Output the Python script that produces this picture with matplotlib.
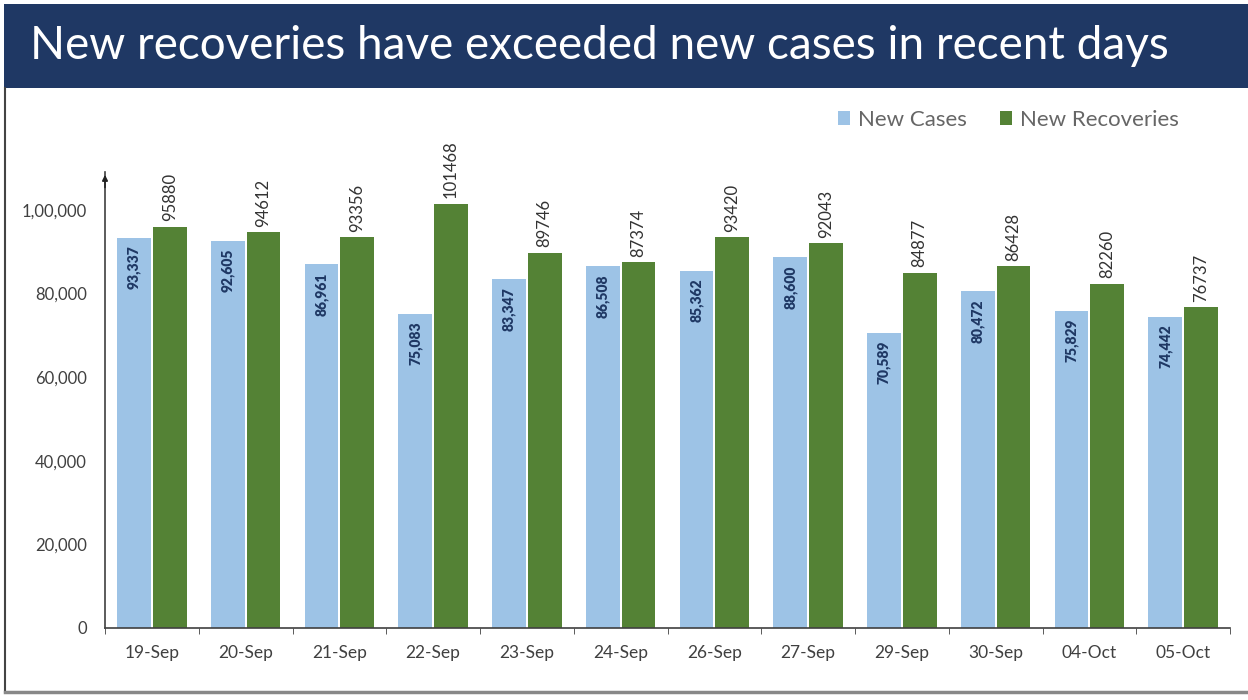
import matplotlib
matplotlib.use("Agg")
import matplotlib.pyplot as plt
from matplotlib.patches import Rectangle
import numpy as np

categories = ["19-Sep", "20-Sep", "21-Sep", "22-Sep", "23-Sep", "24-Sep",
              "26-Sep", "27-Sep", "29-Sep", "30-Sep", "04-Oct", "05-Oct"]
new_cases = [93337, 92605, 86961, 75083, 83347, 86508,
             85362, 88600, 70589, 80472, 75829, 74442]
new_recoveries = [95880, 94612, 93356, 101468, 89746, 87374,
                  93420, 92043, 84877, 86428, 82260, 76737]
y_ticks = [0, 20000, 40000, 60000, 80000, 100000]
y_tick_labels = ["0", "20,000", "40,000", "60,000", "80,000", "1,00,000"]
title = "New recoveries have exceeded new cases in recent days"

W, H = 1248, 700
fig = plt.figure(figsize=(W / 100, H / 100), dpi=100)
fig.patch.set_facecolor("white")
plt.rcParams["font.family"] = ["Lato", "DejaVu Sans"]

# title bar
fig.patches.append(Rectangle((4 / W, 1 - 88 / H), 1 - 4 / W, 84 / H,
                             transform=fig.transFigure, facecolor="#1F3864",
                             edgecolor="none", zorder=0))
fig.text(30 / W, 1 - 46 / H, title, color="white", fontsize=33,
         ha="left", va="center", family=["Lato", "DejaVu Sans"])
# frame lines
fig.add_artist(plt.Line2D([5 / W, 5 / W], [1 - 88 / H, 1 - 692 / H],
                          transform=fig.transFigure, color="#444444", lw=1.5))
fig.add_artist(plt.Line2D([5 / W, 1], [1 - 692 / H, 1 - 692 / H],
                          transform=fig.transFigure, color="#888888", lw=2.5))

ax = fig.add_axes([105 / W, 72 / H, 1125 / W, 456 / H])
ax.set_facecolor("none")
x = np.arange(len(categories))
bw = 0.36
off = 0.19
blue = "#9DC3E6"
green = "#548235"
ax.bar(x - off, new_cases, bw, color=blue, edgecolor="none", label="New Cases", zorder=2)
ax.bar(x + off, new_recoveries, bw, color=green, edgecolor="none", label="New Recoveries", zorder=2)

for xi, v in zip(x, new_cases):
    ax.text(xi - off, v - 1900, f"{v:,}", rotation=90, ha="center", va="top",
            fontsize=10, fontweight="heavy", color="#1F3864")
for xi, v in zip(x, new_recoveries):
    ax.text(xi + off, v + 1300, f"{v}", rotation=90, ha="center", va="bottom",
            fontsize=12, color="#333333")

ax.set_xlim(-0.5, len(categories) - 0.5)
ax.set_ylim(0, 109000)
ax.set_yticks(y_ticks)
ax.set_yticklabels(y_tick_labels, fontsize=12, color="#404040")
ax.tick_params(axis="y", length=0, pad=13)
ax.set_xticks(x)
ax.set_xticklabels(categories, fontsize=12.5, color="#404040")
ax.tick_params(axis="x", length=0, pad=12)
ax.set_xticks(np.arange(len(categories) + 1) - 0.5, minor=True)
ax.tick_params(axis="x", which="minor", length=4, direction="out", color="#404040")
for s in ["top", "right"]:
    ax.spines[s].set_visible(False)
ax.spines["left"].set_color("#404040")
ax.spines["bottom"].set_color("#404040")
ax.spines["left"].set_linewidth(1.2)
ax.spines["bottom"].set_linewidth(1.2)
ax.annotate("", xy=(0, 1.0), xytext=(0, 0.96), xycoords="axes fraction",
            arrowprops=dict(arrowstyle="-|>", color="#222222", lw=1.2,
                            mutation_scale=8))

leg = fig.legend(loc="center left", bbox_to_anchor=(818 / W, 1 - 120 / H),
                 ncol=2, frameon=False, fontsize=16, handlelength=0.55,
                 handleheight=0.55, handletextpad=0.35, columnspacing=1.5)
for t in leg.get_texts():
    t.set_color("#666666")

fig.savefig("out.png", dpi=100, facecolor="white")
